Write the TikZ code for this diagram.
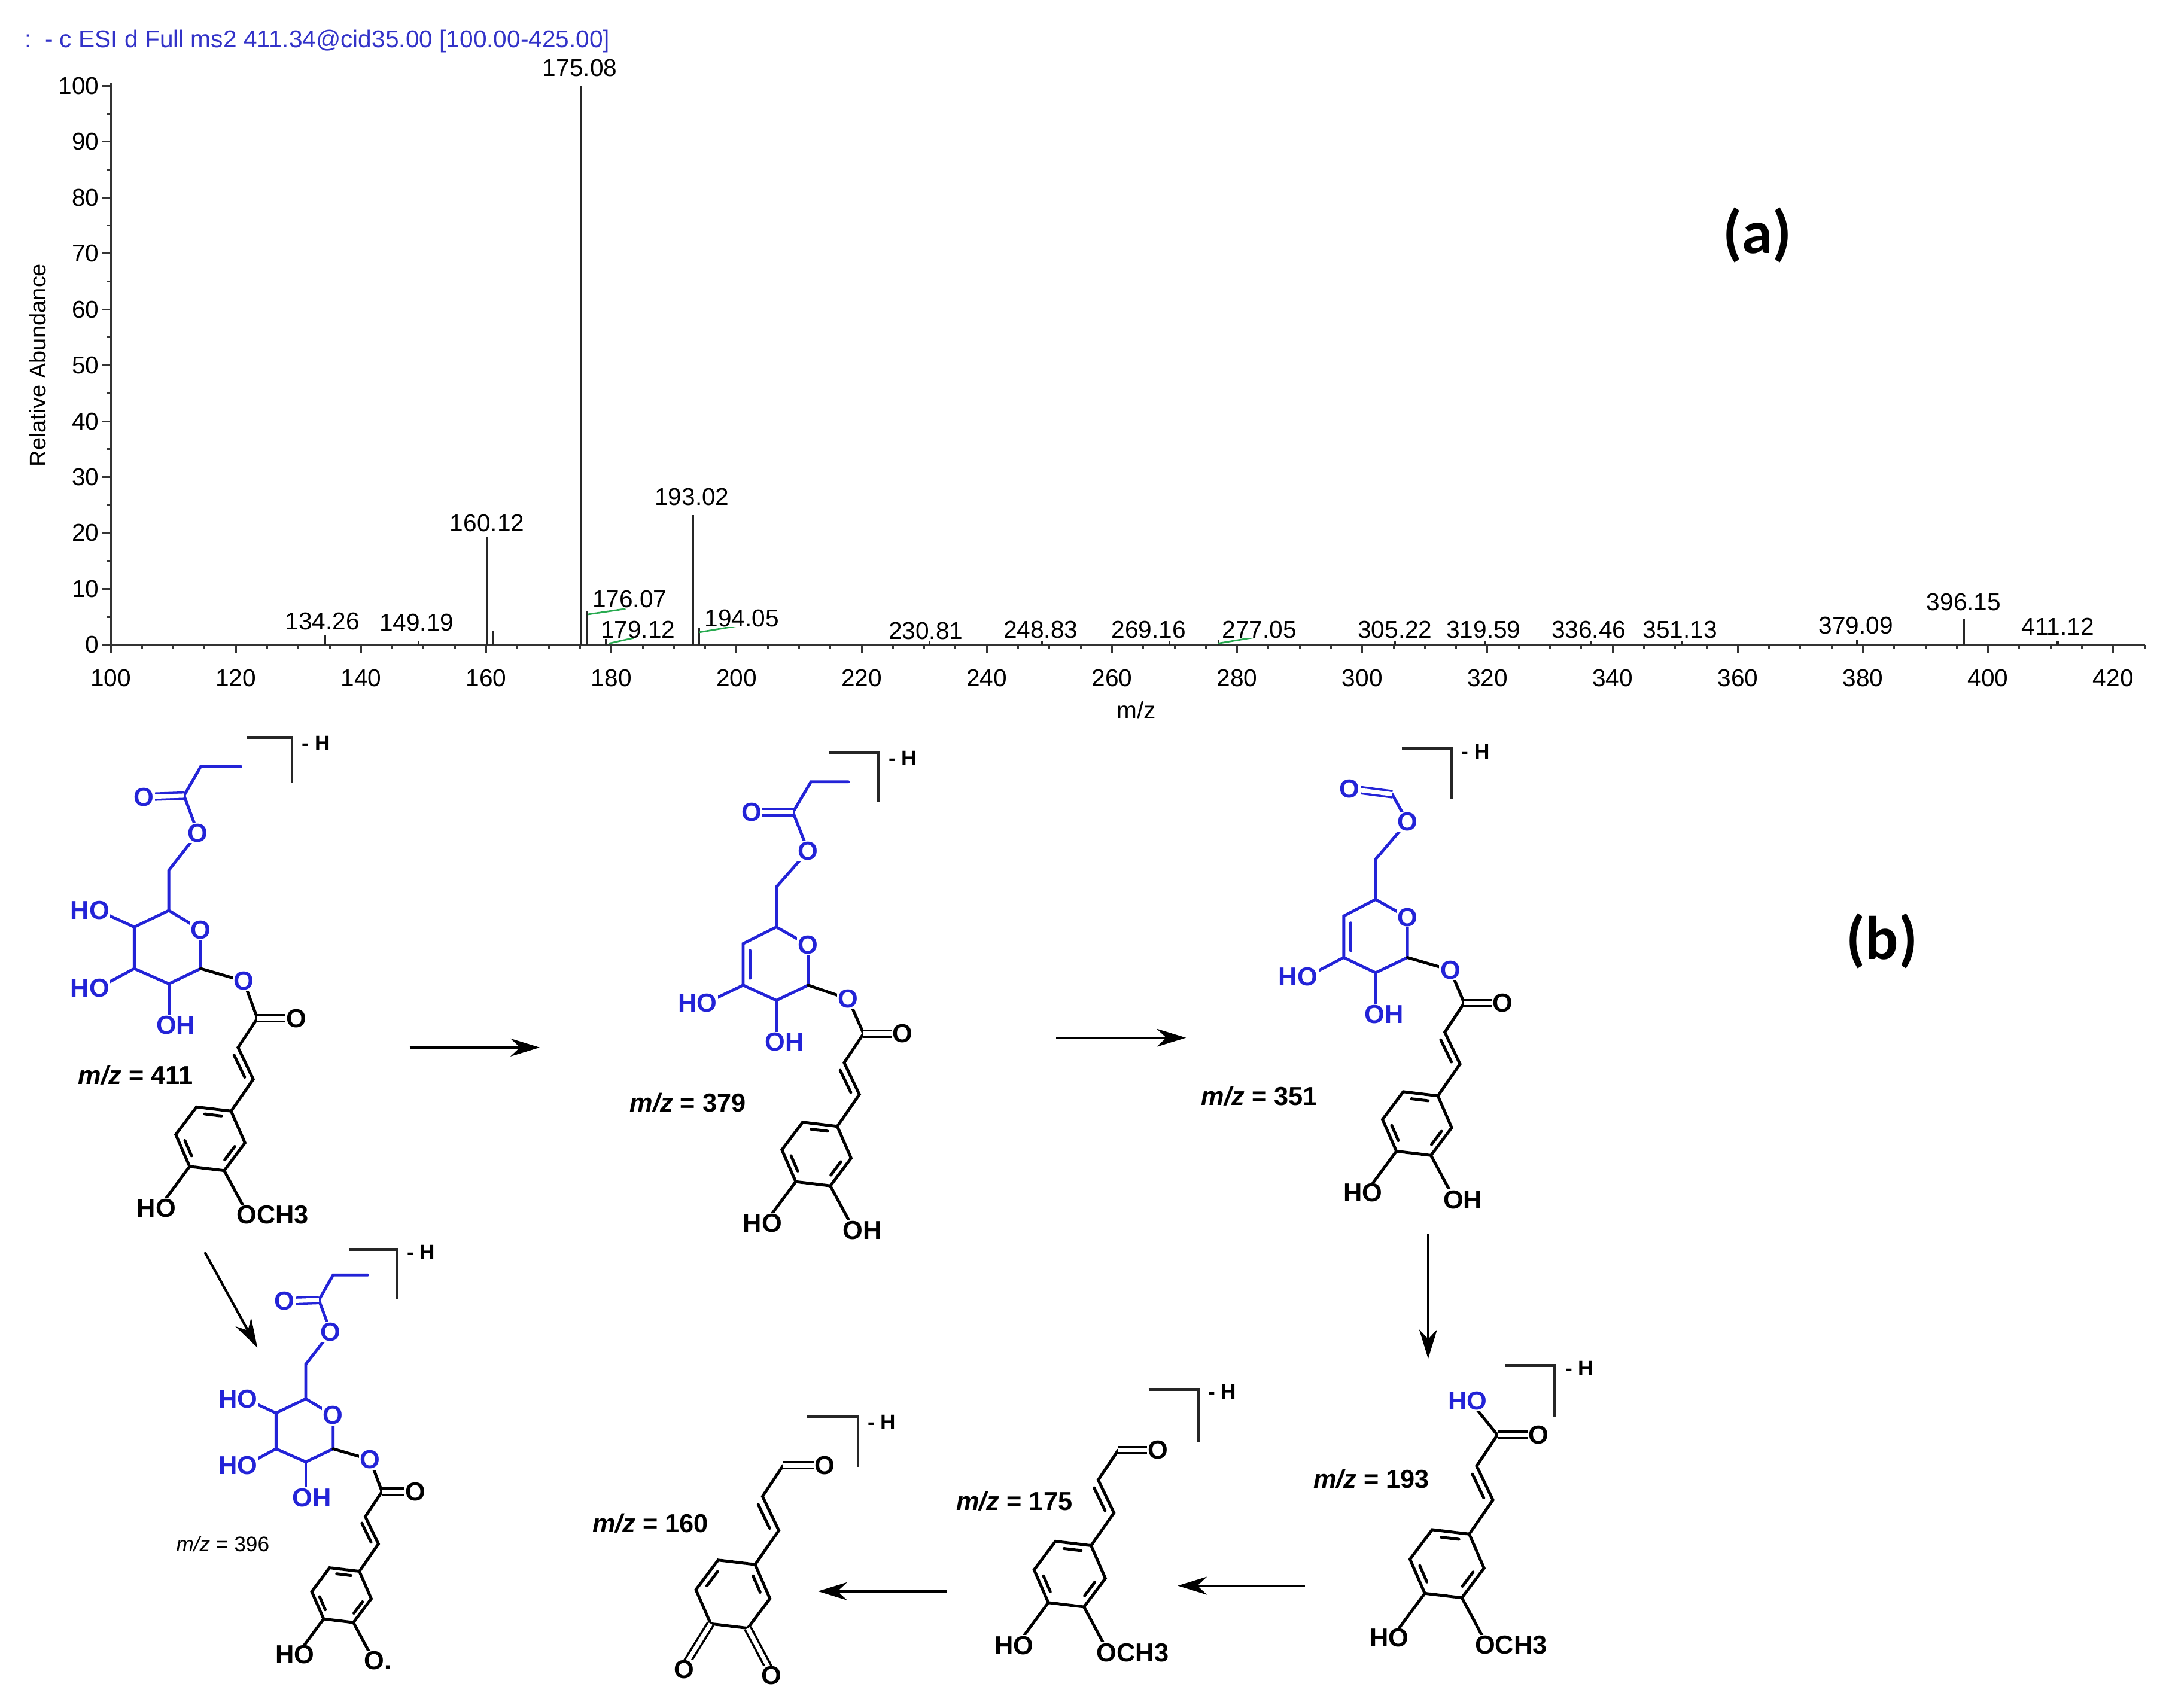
\documentclass[tikz,border=0pt]{standalone}
\usepackage{fontspec}
\setmainfont{Liberation Sans}
\newfontfamily\carl{Carlito}
\usetikzlibrary{calc,arrows.meta}
\definecolor{molblue}{RGB}{35,35,215}
\definecolor{hdrblue}{RGB}{50,50,200}
\definecolor{pkgreen}{RGB}{40,170,80}
\tikzset{
 bond/.style={line width=1.8pt,line cap=round},
 bb/.style={bond,draw=molblue},
 dbl/.style={line width=1.3pt,double=white,double distance=2.6pt,draw=black},
 dblb/.style={dbl,draw=molblue},
 lab/.style={font=\fontsize{16}{16}\selectfont\bfseries,inner sep=0.6pt,fill=white},
 labb/.style={lab,text=molblue},
 mz/.style={font=\fontsize{16}{16}\selectfont\bfseries},
 hlab/.style={font=\fontsize{13}{13}\selectfont\bfseries,anchor=west},
 brk/.style={line width=1.8pt,draw=black!85},
 rarrow/.style={line width=1.5pt,-{Stealth[length=18pt,width=11pt]}},
 ax/.style={line width=1.1pt,draw=black!80},
 pk/.style={line width=1.2pt,draw=black!85},
 tick/.style={font=\fontsize{15}{15}\selectfont,inner sep=1pt},
 pkl/.style={font=\fontsize{15}{15}\selectfont,inner sep=0pt,fill=white},
}
\newcommand{\chainring}{%
 \coordinate (a1) at (-14,21); \coordinate (a2) at (-3,44); \coordinate (c) at (-34,87);
 \coordinate (r1) at (-19,67); \coordinate (r2) at (-9,90); \coordinate (r3) at (-24,110);
 \coordinate (r4) at (-49,107); \coordinate (r5) at (-59,84); \coordinate (r0) at (-44,64);
 \draw[bond] (0,0)--(a1)--(a2)--(r1);
 \draw[bond] (-16.9,26.5)--(-9.2,42.5);
 \draw[bond] (r0)--(r1)--(r2)--(r3)--(r4)--(r5)--cycle;
 \draw[dbl] (0,0)--(28,0); \node[lab] at (28,0) {O};}
\newcommand{\inb}[2]{\draw[bond] ($(#1)!0.2!(#2)!0.2!(c)$)--($(#2)!0.2!(#1)!0.2!(c)$);}
\newcommand{\arom}{\inb{r0}{r1}\inb{r2}{r3}\inb{r4}{r5}}
\newcommand{\subs}[2]{\draw[bond] (r4)--(-66,130); \draw[bond] (r3)--(-9,138);
 \node[lab] at (-73,137) {#1}; \node[lab,anchor=west] at (-16,142) {#2};}
\newcommand{\glucfull}{%
 \draw[bb] (-12,-182)--(-41,-182)--(-53,-161)--(-43,-134)--(-64,-107)--(-64,-78)--(-41,-64)--(-41,-36)--(-64,-25)--(-89,-36)--(-89,-66)--(-64,-78);
 \draw[bb] (-89,-66)--(-115,-78); \draw[bb] (-89,-36)--(-115,-22); \draw[bb] (-64,-25)--(-64,0);
 \draw[dblb] (-53,-161)--(-82,-160);
 \draw[bond] (-41,-36)--(-10,-27)--(0,0);
 \node[labb] at (-82,-160) {O}; \node[labb] at (-43,-134) {O}; \node[labb] at (-41,-64) {O};
 \node[labb] at (-10,-27) {O};
 \node[labb] at (-121,-78) {HO}; \node[labb] at (-121,-22) {HO}; \node[labb] at (-59,5) {OH};}
\begin{document}
\begin{tikzpicture}[x=0.03cm,y=-0.03cm]
\useasboundingbox (0,0) rectangle (1563,1234);
% ---------- spectrum ----------
\node[font=\fontsize{15}{15}\selectfont,text=hdrblue,anchor=west] at (14,30) {:\, - c ESI d Full ms2 411.34@cid35.00 [100.00-425.00]};
\draw[ax] (80,60)--(80,466)--(1550,466);
\foreach \v in {0,10,...,100} {\draw[ax] (80,{466-4.04*\v})--(74,{466-4.04*\v});
 \node[tick,anchor=east] at (73,{466-4.04*\v}) {\v};}
\foreach \v in {5,15,...,95} {\draw[ax] (80,{466-4.04*\v})--(77,{466-4.04*\v});}
\foreach \m in {100,120,...,420} {\draw[ax] ({80+(\m-100)*4.522},466)--({80+(\m-100)*4.522},472);
 \node[tick] at ({80+(\m-100)*4.522},490) {\m};}
\foreach \m in {105,110,...,425} {\draw[ax] ({80+(\m-100)*4.522},466)--({80+(\m-100)*4.522},469);}
\node[tick] at (821,513) {m/z};
\node[tick,rotate=90,font=\fontsize{14}{14}\selectfont] at (27,264) {Relative Abundance};
\foreach \m/\h in {134.26/1.8,149.19/0.7,160.12/19.3,161.1/2.5,175.08/100,176.07/6,179.12/1,193.02/23.2,194.05/3,230.81/0.6,248.83/0.6,269.16/0.6,277.05/0.8,305.22/0.6,319.59/0.6,336.46/0.6,351.13/0.6,379.09/0.8,396.15/4.6,411.12/0.6}
 {\draw[pk] ({80+(\m-100)*4.522},466)--({80+(\m-100)*4.522},{466-4.04*\h});}
\draw[pkgreen,line width=1pt] (425,444)--(452,440);
\draw[pkgreen,line width=1pt] (440,465)--(458,461);
\draw[pkgreen,line width=1pt] (505,457)--(535,452);
\draw[pkgreen,line width=1pt] (880,465)--(910,460);
\foreach \t/\x/\y in {134.26/233/449,149.19/301/450,160.12/352/378,175.08/419/49,176.07/455/433,179.12/461/455,193.02/500/359,194.05/536/447,230.81/669/456,248.83/752/455,269.16/830/455,277.05/910/455,305.22/1008/455,319.59/1072/455,336.46/1148/455,351.13/1214/455,379.09/1341/452,396.15/1419/435,411.12/1487/453}
 {\node[pkl] at (\x,\y) {\t};}
\node[font=\fontsize{38}{38}\selectfont\carl\bfseries] at (1270,170) {(a)};
\node[font=\fontsize{38}{38}\selectfont\carl\bfseries] at (1360,680) {(b)};
% ---------- m/z 411 ----------
\begin{scope}[shift={(186,736)}]
 \glucfull
 \chainring \arom \subs{HO}{OCH3}
\end{scope}
\draw[brk] (178,533)--(211,533)--(211,566); \node[hlab] at (214,537) {- H};
\node[mz] at (98,777) {\textit{m/z} = 411};
% ---------- m/z 379 ----------
\begin{scope}[shift={(624,747)}]
 \draw[bb] (-11,-182)--(-38,-182)--(-51,-160)--(-40,-132)--(-63,-106)--(-63,-77)--(-40,-64)--(-40,-35)--(-63,-24)--(-87,-35)--(-87,-65)--(-63,-77);
 \draw[bb] (-82,-60)--(-82,-40);
 \draw[bb] (-87,-35)--(-114,-22); \draw[bb] (-63,-24)--(-63,0);
 \draw[dblb] (-51,-160)--(-81,-160);
 \draw[bond] (-40,-35)--(-11,-25)--(0,0);
 \node[labb] at (-81,-160) {O}; \node[labb] at (-40,-132) {O}; \node[labb] at (-40,-64) {O};
 \node[labb] at (-11,-25) {O};
 \node[labb] at (-120,-22) {HO}; \node[labb] at (-57,6) {OH};
 \chainring \arom \subs{HO}{OH}
\end{scope}
\draw[brk] (599,544)--(635,544)--(635,580); \node[hlab] at (638,548) {- H};
\node[mz] at (497,797) {\textit{m/z} = 379};
% ---------- m/z 351 ----------
\begin{scope}[shift={(1058,725)}]
 \draw[bb] (-52,-151)--(-41,-131)--(-64,-104)--(-64,-75)--(-41,-62)--(-41,-33)--(-64,-22)--(-87,-33)--(-87,-63)--(-64,-75);
 \draw[bb] (-82,-58)--(-82,-38);
 \draw[bb] (-87,-33)--(-114,-19); \draw[bb] (-64,-22)--(-64,2);
 \draw[dblb] (-52,-151)--(-83,-155);
 \draw[bond] (-41,-33)--(-10,-24)--(0,0);
 \node[labb] at (-83,-155) {O}; \node[labb] at (-41,-131) {O}; \node[labb] at (-41,-62) {O};
 \node[labb] at (-10,-24) {O};
 \node[labb] at (-120,-19) {HO}; \node[labb] at (-58,8) {OH};
 \chainring \arom \subs{HO}{OH}
\end{scope}
\draw[brk] (1013,541)--(1049,541)--(1049,577); \node[hlab] at (1052,543) {- H};
\node[mz] at (910,792) {\textit{m/z} = 351};
% ---------- m/z 396 ----------
\begin{scope}[shift={(276,1078)},scale=0.86]
 \glucfull
 \chainring \arom \subs{HO}{O.}
\end{scope}
\draw[brk] (252,903)--(287,903)--(287,939); \node[hlab] at (290,905) {- H};
\node[font=\fontsize{13}{13}\selectfont] at (161,1116) {\textit{m/z} = 396};
% ---------- m/z 193 ----------
\begin{scope}[shift={(1082,1037)},scale=1.07]
 \draw[bond] (0,0)--(-17,-21);
 \node[labb] at (-20,-23) {HO};
 \chainring \arom \subs{HO}{OCH3}
\end{scope}
\draw[brk] (1088,987)--(1123,987)--(1123,1024); \node[hlab] at (1127,989) {- H};
\node[mz] at (991,1069) {\textit{m/z} = 193};
% ---------- m/z 175 ----------
\begin{scope}[shift={(808,1048)},scale=1.03]
 \chainring \arom \subs{HO}{OCH3}
\end{scope}
\draw[brk] (830,1004)--(866,1004)--(866,1042); \node[hlab] at (869,1006) {- H};
\node[mz] at (733,1085) {\textit{m/z} = 175};
% ---------- m/z 160 ----------
\begin{scope}[shift={(566,1059)},scale=1.07]
 \chainring \inb{r1}{r2}\inb{r5}{r0}
 \draw[dbl] (r4)--(-67,136); \draw[dbl] (r3)--(-8,140);
 \node[lab] at (-67,138) {O}; \node[lab] at (-8,142) {O};
\end{scope}
\draw[brk] (583,1024)--(620,1024)--(620,1060); \node[hlab] at (623,1028) {- H};
\node[mz] at (470,1101) {\textit{m/z} = 160};
% ---------- arrows ----------
\coordinate (p1) at (296,757); \coordinate (p2) at (390,757);
\coordinate (p3) at (763,750); \coordinate (p4) at (857,750);
\coordinate (p5) at (148,905); \coordinate (p6) at (186,974);
\coordinate (p7) at (1032,892); \coordinate (p8) at (1032,982);
\coordinate (p9) at (943,1146); \coordinate (p10) at (851,1146);
\coordinate (p11) at (684,1150); \coordinate (p12) at (591,1150);
\draw[rarrow] (p1)--(p2); \draw[rarrow] (p3)--(p4); \draw[rarrow] (p5)--(p6);
\draw[rarrow] (p7)--(p8); \draw[rarrow] (p9)--(p10); \draw[rarrow] (p11)--(p12);
\end{tikzpicture}
\end{document}
